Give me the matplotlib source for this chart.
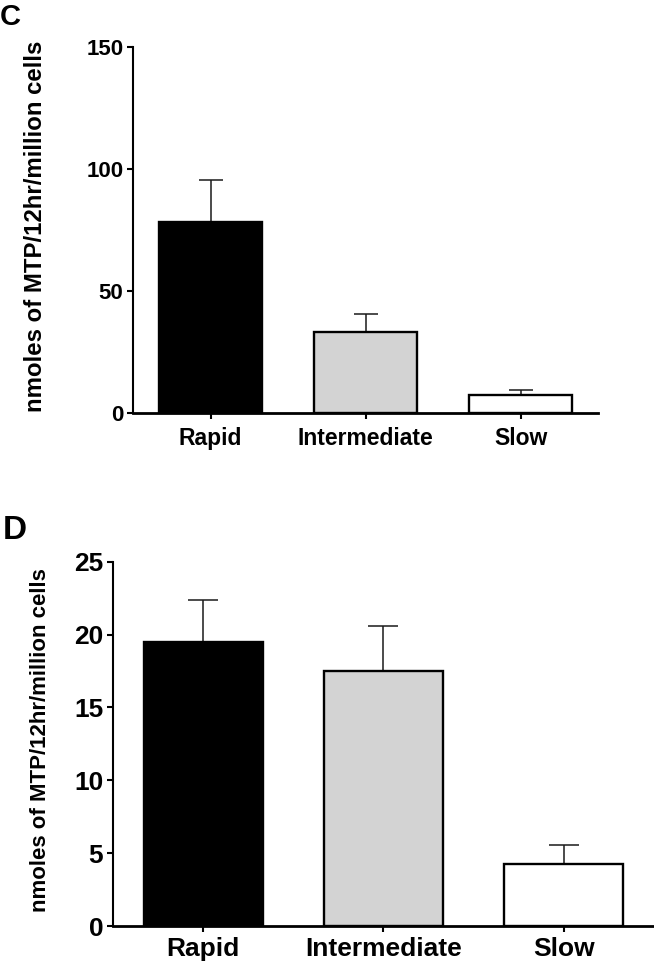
import matplotlib
matplotlib.use("Agg")
import matplotlib.pyplot as plt

plt.rcParams['font.family'] = ['Liberation Sans', 'DejaVu Sans']
plt.rcParams['font.weight'] = 'bold'

groups = ['Rapid', 'Intermediate', 'Slow']
bar_colors = ['black', '#d3d3d3', 'white']
ylabel = 'nmoles of MTP/12hr/million cells'

# panel C
c_means = [78.5, 33.3, 7.4]
c_err = [17.0, 7.4, 2.1]
c_ticks = [0, 50, 100, 150]

# panel D
d_means = [19.5, 17.5, 4.25]
d_err = [2.85, 3.1, 1.3]
d_ticks = [0, 5, 10, 15, 20, 25]

fig = plt.figure(figsize=(6.54, 9.63), dpi=100)


def panel(ax, means, err, ticks, ymax, tick_fs, xtick_fs, label_fs, capsize, label_x, xpad):
    x = range(len(groups))
    ax.bar(x, means, width=0.66, color=bar_colors, edgecolor='black', linewidth=1.7, zorder=2)
    ax.errorbar(x, means, yerr=[[0] * len(err), err], fmt='none', ecolor='#1a1a1a',
                elinewidth=1.1, capsize=capsize, capthick=1.1, zorder=1)
    ax.set_xlim(-0.5, 2.5)
    ax.set_ylim(0, ymax)
    ax.set_yticks(ticks)
    ax.set_xticks(list(x))
    ax.set_xticklabels(groups, fontsize=xtick_fs, fontweight='bold')
    for lab in ax.get_yticklabels():
        lab.set_fontsize(tick_fs)
        lab.set_fontweight('bold')
    ax.spines['top'].set_visible(False)
    ax.spines['right'].set_visible(False)
    ax.spines['left'].set_linewidth(1.5)
    ax.spines['bottom'].set_linewidth(2.0)
    ax.tick_params(axis='both', direction='out', length=4, width=1.5, pad=3)
    ax.tick_params(axis='x', pad=xpad)
    ax.set_ylabel(ylabel, fontsize=label_fs, fontweight='bold')
    ax.yaxis.set_label_coords(label_x, 0.51)


axC = fig.add_axes([0.2034, 0.5711, 0.711, 0.380])
panel(axC, c_means, c_err, c_ticks, 150, 16, 16.5, 17.3, 8.5, -0.185, 6)

axD = fig.add_axes([0.1728, 0.0384, 0.827, 0.3783])
panel(axD, d_means, d_err, d_ticks, 25, 19, 19, 16, 10.5, -0.115, 4)

fig.text(0.0, 0.997, 'C', fontsize=21, fontweight='bold', va='top', ha='left')
fig.text(0.004, 0.465, 'D', fontsize=24, fontweight='bold', va='top', ha='left')

plt.savefig('out.png', dpi=100)
